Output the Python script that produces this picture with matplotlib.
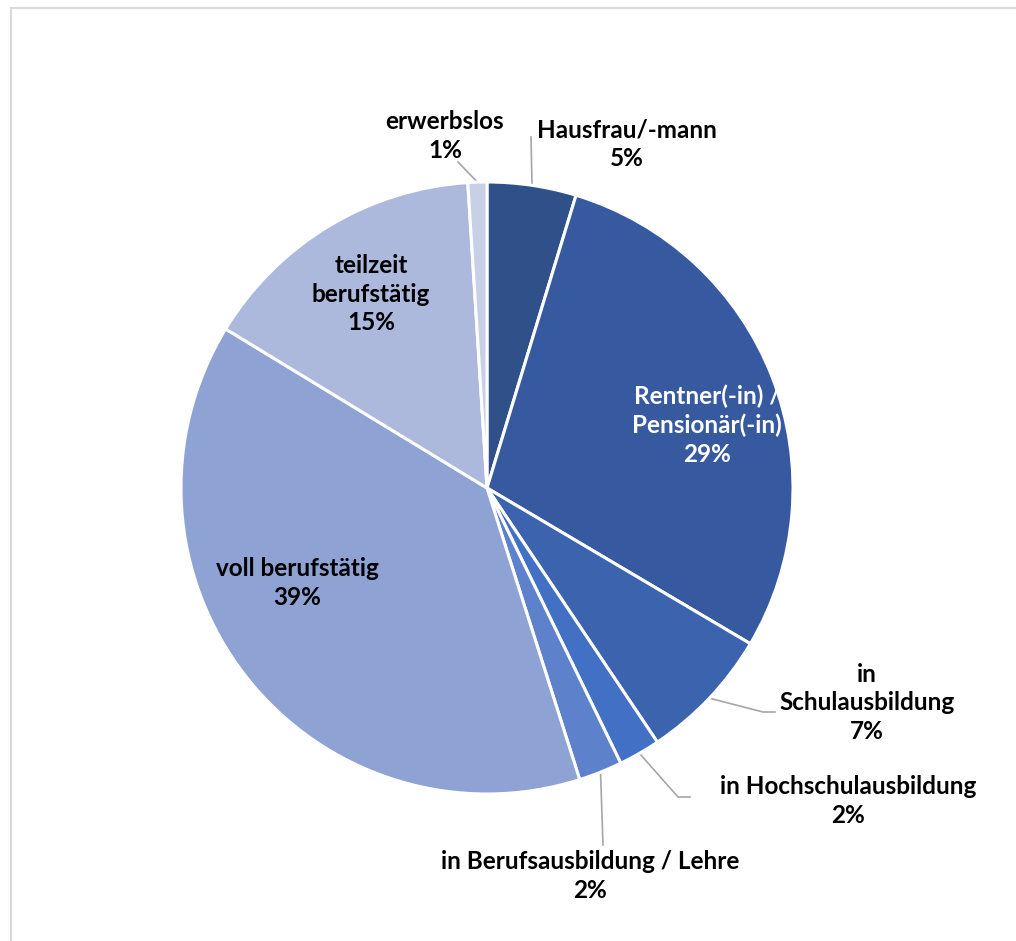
import matplotlib.pyplot as plt
import numpy as np

# share of respondents by employment status, clockwise from 12 o'clock
categories = [
    "Hausfrau/-mann",
    "Rentner(-in) /\nPensionär(-in)",
    "in\nSchulausbildung",
    "in Hochschulausbildung",
    "in Berufsausbildung / Lehre",
    "voll berufstätig",
    "teilzeit\nberufstätig",
    "erwerbslos",
]
shares = [4.7, 28.8, 7.1, 2.2, 2.3, 38.6, 15.3, 1.0]
colors = ["#2f5088", "#3659a0", "#3c63ae", "#4170c4", "#5e81cc",
          "#8fa2d4", "#acb9dd", "#c8d0e8"]

W, H = 1016, 941
cx, cy, r = 487, H - 488, 306

plt.rcParams['font.family'] = ['Lato', 'DejaVu Sans']

fig = plt.figure(figsize=(W / 100, H / 100), dpi=100)
ax = fig.add_axes([0, 0, 1, 1])

wedges, _ = ax.pie(shares, colors=colors, startangle=90, counterclock=False,
                   center=(cx, cy), radius=r, frame=True,
                   wedgeprops=dict(edgecolor='white', linewidth=2.2))
ax.set_xlim(0, W)
ax.set_ylim(0, H)
ax.set_aspect('equal')
ax.axis('off')

# label placement: (x, y) in pixels from top-left, text colour, leader path
label_pos = {
    0: (627, 144, 'black', [(531, 137)]),
    1: (707, 425, 'white', None),
    2: (867, 703, 'black', [(763, 712), (775, 712)]),
    3: (848, 801, 'black', [(678, 797), (690, 797)]),
    4: (590, 876, 'black', [(603, 845)]),
    5: (297, 583, 'black', None),
    6: (371, 294, 'black', None),
    7: (445, 136, 'black', [(458, 162)]),
}

total = sum(shares)
cum = np.cumsum([0] + shares)
for i, (name, val) in enumerate(zip(categories, shares)):
    x, y, col, path = label_pos[i]
    ax.text(x, H - y, f"{name}\n{round(val)}%", ha='center', va='center',
            fontsize=17.5, fontweight='bold', color=col, linespacing=1.3)
    if path:
        mid = np.deg2rad(90 - 360 * (cum[i] + val / 2) / total)
        px = [cx + r * np.cos(mid)] + [p[0] for p in path]
        py = [cy + r * np.sin(mid)] + [H - p[1] for p in path]
        ax.plot(px, py, color='#a6a6a6', linewidth=1.2, zorder=0.5)

# light chart border (top and left edges visible)
fig.add_artist(plt.Line2D([11 / W, 11 / W], [0, 1 - 7.5 / H],
                          transform=fig.transFigure, color='#d9d9d9', lw=1.5))
fig.add_artist(plt.Line2D([11 / W, 1], [1 - 7.5 / H, 1 - 7.5 / H],
                          transform=fig.transFigure, color='#d9d9d9', lw=1.5))

fig.savefig("out.png", dpi=100, facecolor='white')
